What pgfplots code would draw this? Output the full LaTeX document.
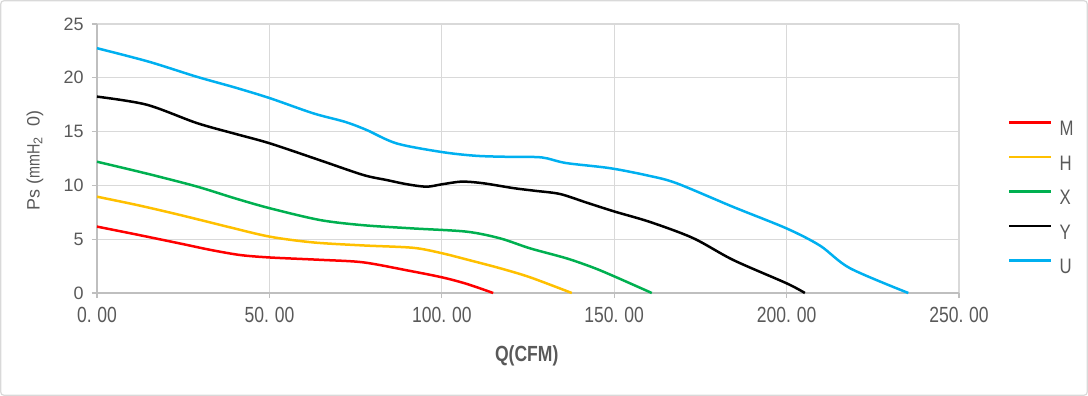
\documentclass[border=0pt]{standalone}
\usepackage{fontspec}
\setmainfont{Liberation Sans}
\usepackage{pgfplots}
\pgfplotsset{compat=1.18}
\usepackage{graphicx}
\definecolor{cM}{HTML}{FF0000}
\definecolor{cH}{HTML}{FFC000}
\definecolor{cX}{HTML}{00B050}
\definecolor{cY}{HTML}{000000}
\definecolor{cU}{HTML}{00B0F0}
\definecolor{gridc}{HTML}{D9D9D9}
\definecolor{axc}{HTML}{BFBFBF}
\definecolor{txt}{HTML}{595959}
\newcommand\cx[1]{\scalebox{0.8}[1]{#1}}
\begin{document}
\begin{tikzpicture}
\useasboundingbox (0,0) rectangle (1088bp,396bp);
\draw[color=gridc, line width=1.2bp, rounded corners=3bp] (0.8bp,0.8bp) rectangle (1087.2bp,395.2bp);
\begin{axis}[
  at={(97bp,103bp)}, anchor=south west, scale only axis,
  width=862bp, height=269bp,
  xmin=0, xmax=250, ymin=0, ymax=25,
  xtick={0,50,100,150,200,250},
  ytick={0,5,10,15,20,25},
  xticklabels={\cx{0.\,\,00},\cx{50.\,\,00},\cx{100.\,\,00},\cx{150.\,\,00},\cx{200.\,\,00},\cx{250.\,\,00}},
  yticklabels={0,5,10,15,20,25},
  axis lines*=left,
  axis line style={color=axc, line width=1.2bp},
  major tick style={color=axc, line width=1.2bp},
  tick align=outside, major tick length=5bp,
  grid=major, major grid style={color=gridc, line width=1.2bp},
  xticklabel style={font=\fontsize{22}{22}\selectfont, text=txt, yshift=-6bp},
  yticklabel style={font=\fontsize{18}{18}\selectfont, text=txt, xshift=-5bp},
  xlabel={\cx{\textbf{Q(CFM)}}},
  xlabel style={at={(axis description cs:0.4985,-0.233)}, anchor=center, font=\fontsize{22}{22}\selectfont, text=txt},
  ylabel={Ps (\cx{mmH}\textsubscript{2}\ \ 0)},
  ylabel style={at={(axis description cs:-0.0719,0.4926)}, anchor=center, font=\fontsize{18}{18}\selectfont, text=txt},
  legend style={at={(axis description cs:1.0568,0.355)}, anchor=west, draw=none, fill=none,
    inner sep=0pt, row sep=20bp, column sep=7bp,
    font=\fontsize{21}{21}\selectfont, text=txt,
    nodes={inner sep=0pt, text height=13.5bp, text depth=0bp}},
  legend cell align=left,
  legend image code/.code={\draw[#1, line width=2.5bp] (0bp,6.5bp) -- (42bp,6.5bp);},
  every axis plot/.append style={line width=2.5bp, smooth, tension=0.5},
  clip=false,
]
\addplot[cM] coordinates {(0,6.17) (12,5.4) (24.1,4.6) (33,4.0) (41.5,3.53) (50.2,3.3) (65,3.08) (77.2,2.85) (90,2.1) (100,1.46) (107.2,0.85) (114.9,0)};
\addlegendentry{\cx{M}}
\addplot[cH] coordinates {(0,8.95) (12,8.15) (24.1,7.25) (38.6,6.1) (50.2,5.23) (62.7,4.7) (77.2,4.42) (91.7,4.2) (100,3.7) (108,3.05) (116.9,2.3) (125.6,1.46) (137.7,0)};
\addlegendentry{\cx{H}}
\addplot[cX] coordinates {(0,12.2) (14.4,11.1) (28.9,9.9) (40,8.8) (50.2,7.87) (64.7,6.78) (77.2,6.3) (91.7,6.0) (107.2,5.7) (116.9,5.08) (125.6,4.15) (136.2,3.22) (144,2.35) (150.2,1.52) (160.9,0)};
\addlegendentry{\cx{X}}
\addplot[cY] coordinates {(0,18.25) (14.4,17.5) (28.9,15.8) (40,14.8) (50.2,13.9) (65,12.3) (77.2,10.97) (84,10.5) (90,10.1) (95.6,9.88) (100,10.1) (105.8,10.35) (112,10.2) (120.7,9.75) (127,9.5) (134.3,9.2) (142,8.4) (150.2,7.56) (160.4,6.6) (172.9,5.1) (184.5,3.07) (200,0.9) (205.3,0)};
\addlegendentry{\cx{Y}}
\addplot[cU] coordinates {(0,22.75) (15,21.5) (28.9,20.1) (40,19.1) (50.2,18.1) (62.7,16.7) (72,15.9) (78.2,15.15) (86.9,13.9) (100,13.1) (110,12.75) (120,12.65) (129,12.6) (136,12.08) (148.8,11.6) (160,10.9) (168.1,10.2) (184.5,8.0) (200,6.0) (209.7,4.4) (218.4,2.3) (235.3,0)};
\addlegendentry{\cx{U}}
\end{axis}
\end{tikzpicture}
\end{document}
